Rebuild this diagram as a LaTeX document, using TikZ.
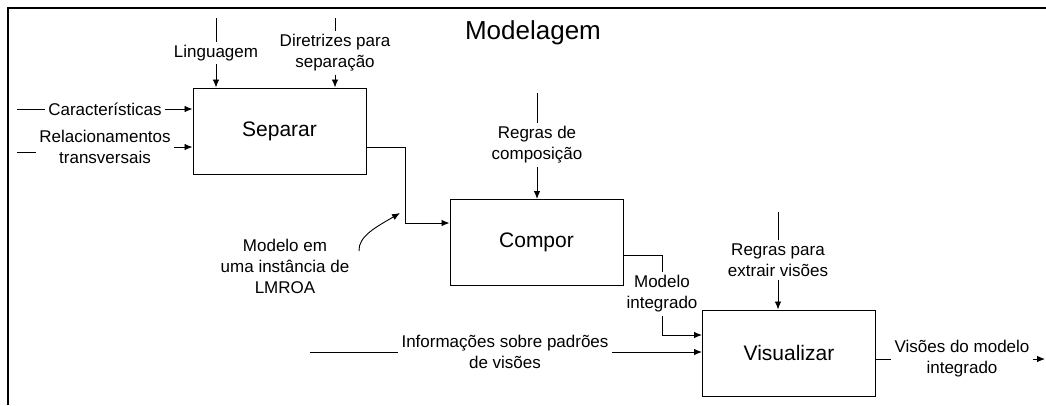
\documentclass[tikz,border=0pt]{standalone}
\usepackage{fontspec}
\setmainfont{Liberation Sans}
\usetikzlibrary{arrows.meta}

\tikzset{
	box/.style={draw=black, line width=1pt, minimum width=173pt, minimum height=86pt, font=\fontsize{21}{25}\selectfont},
	lbl/.style={align=center, inner sep=3pt, font=\fontsize{17}{21}\selectfont},
	wire/.style={line width=0.9pt, black},
	arr/.style={wire, -{Latex[length=8pt, width=6.5pt]}}
}

\begin{document}
\begin{tikzpicture}[x=1pt, y=-1pt]
				
				\useasboundingbox (0,0) rectangle (1046,405);
				
				\draw[line width=2pt] (8,405) -- (8,8) -- (1046,8);
				
				\node[font=\fontsize{26}{30}\selectfont] (title) at (533,33) {Modelagem};
				
				\node[box] (sep) at (279.5,131) {Separar};
				
				\node[box] (comp) at (536.5,242.5) {Compor};
				
				\node[box] (vis) at (789,353) {Visualizar};
				
				\node[lbl] (lang) at (216,53) {Linguagem};
				
				\node[lbl] (dir) at (335,53) {Diretrizes para\\separação};
				
				\node[lbl] (car) at (105,109) {Características};
				
				\node[lbl] (rel) at (105,147) {Relacionamentos\\transversais};
				
				\node[lbl] (rcomp) at (537,145) {Regras de\\composição};
				
				\node[lbl] (mlmroa) at (285,266) {Modelo em\\uma instância de\\LMROA};
				
				\node[lbl] (mint) at (662,294) {Modelo\\integrado};
				
				\node[lbl] (info) at (505,352) {Informações sobre padrões\\de visões};
				
				\node[lbl] (rvis) at (778,260) {Regras para\\extrair visões};
				
				\node[lbl] (vout) at (962,359) {Visões do modelo\\integrado};
				
				\coordinate (langin) at (216,18);
				\coordinate (dirin) at (335,18);
				\coordinate (carin) at (17,109);
				\coordinate (relin) at (17,152);
				\coordinate (rcompin) at (537,93);
				\coordinate (infoin) at (310,352);
				\coordinate (rvisin) at (778,212);
				\coordinate (curvin) at (359,251);
				\coordinate (curvout) at (400,213);
				\coordinate (out) at (1045,359);
				
				\draw[wire] (langin) -- (lang.north);
				\draw[arr] (lang.south) -- (lang.south |- sep.north);
				
				\draw[wire] (dirin) -- (dir.north);
				\draw[arr] (dir.south) -- (dir.south |- sep.north);
				
				\draw[wire] (carin) -- (car.west);
				\draw[arr] (car.east) -- (car.east -| sep.west);
				
				\draw[wire] (relin) -- (relin -| rel.west);
				\draw[arr] (rel.east) -- (rel.east -| sep.west);
				
				\draw[arr] ([yshift=-16pt]sep.east) -- ++(39,0) |- ([yshift=19.5pt]comp.west);
				
				\draw[arr] (curvin) .. controls (358,236) and (378,226) .. (curvout);
				
				\draw[wire] (rcompin) -- (rcomp.north);
				\draw[arr] (rcomp.south) -- (rcomp.south |- comp.north);
				
				\draw[wire] ([yshift=-12.5pt]comp.east) -| (mint.north);
				\draw[arr] (mint.south) |- ([yshift=18pt]vis.west);
				
				\draw[wire] (infoin) -- (info.west);
				\draw[arr] (info.east) -- (info.east -| vis.west);
				
				\draw[wire] (rvisin) -- (rvis.north);
				\draw[arr] (rvis.south) -- (rvis.south |- vis.north);
				
				\draw[wire] ([yshift=-6pt]vis.east) -- (vout.west);
				\draw[arr] (vout.east) -- (out);
				
				\end{tikzpicture}
\end{document}
